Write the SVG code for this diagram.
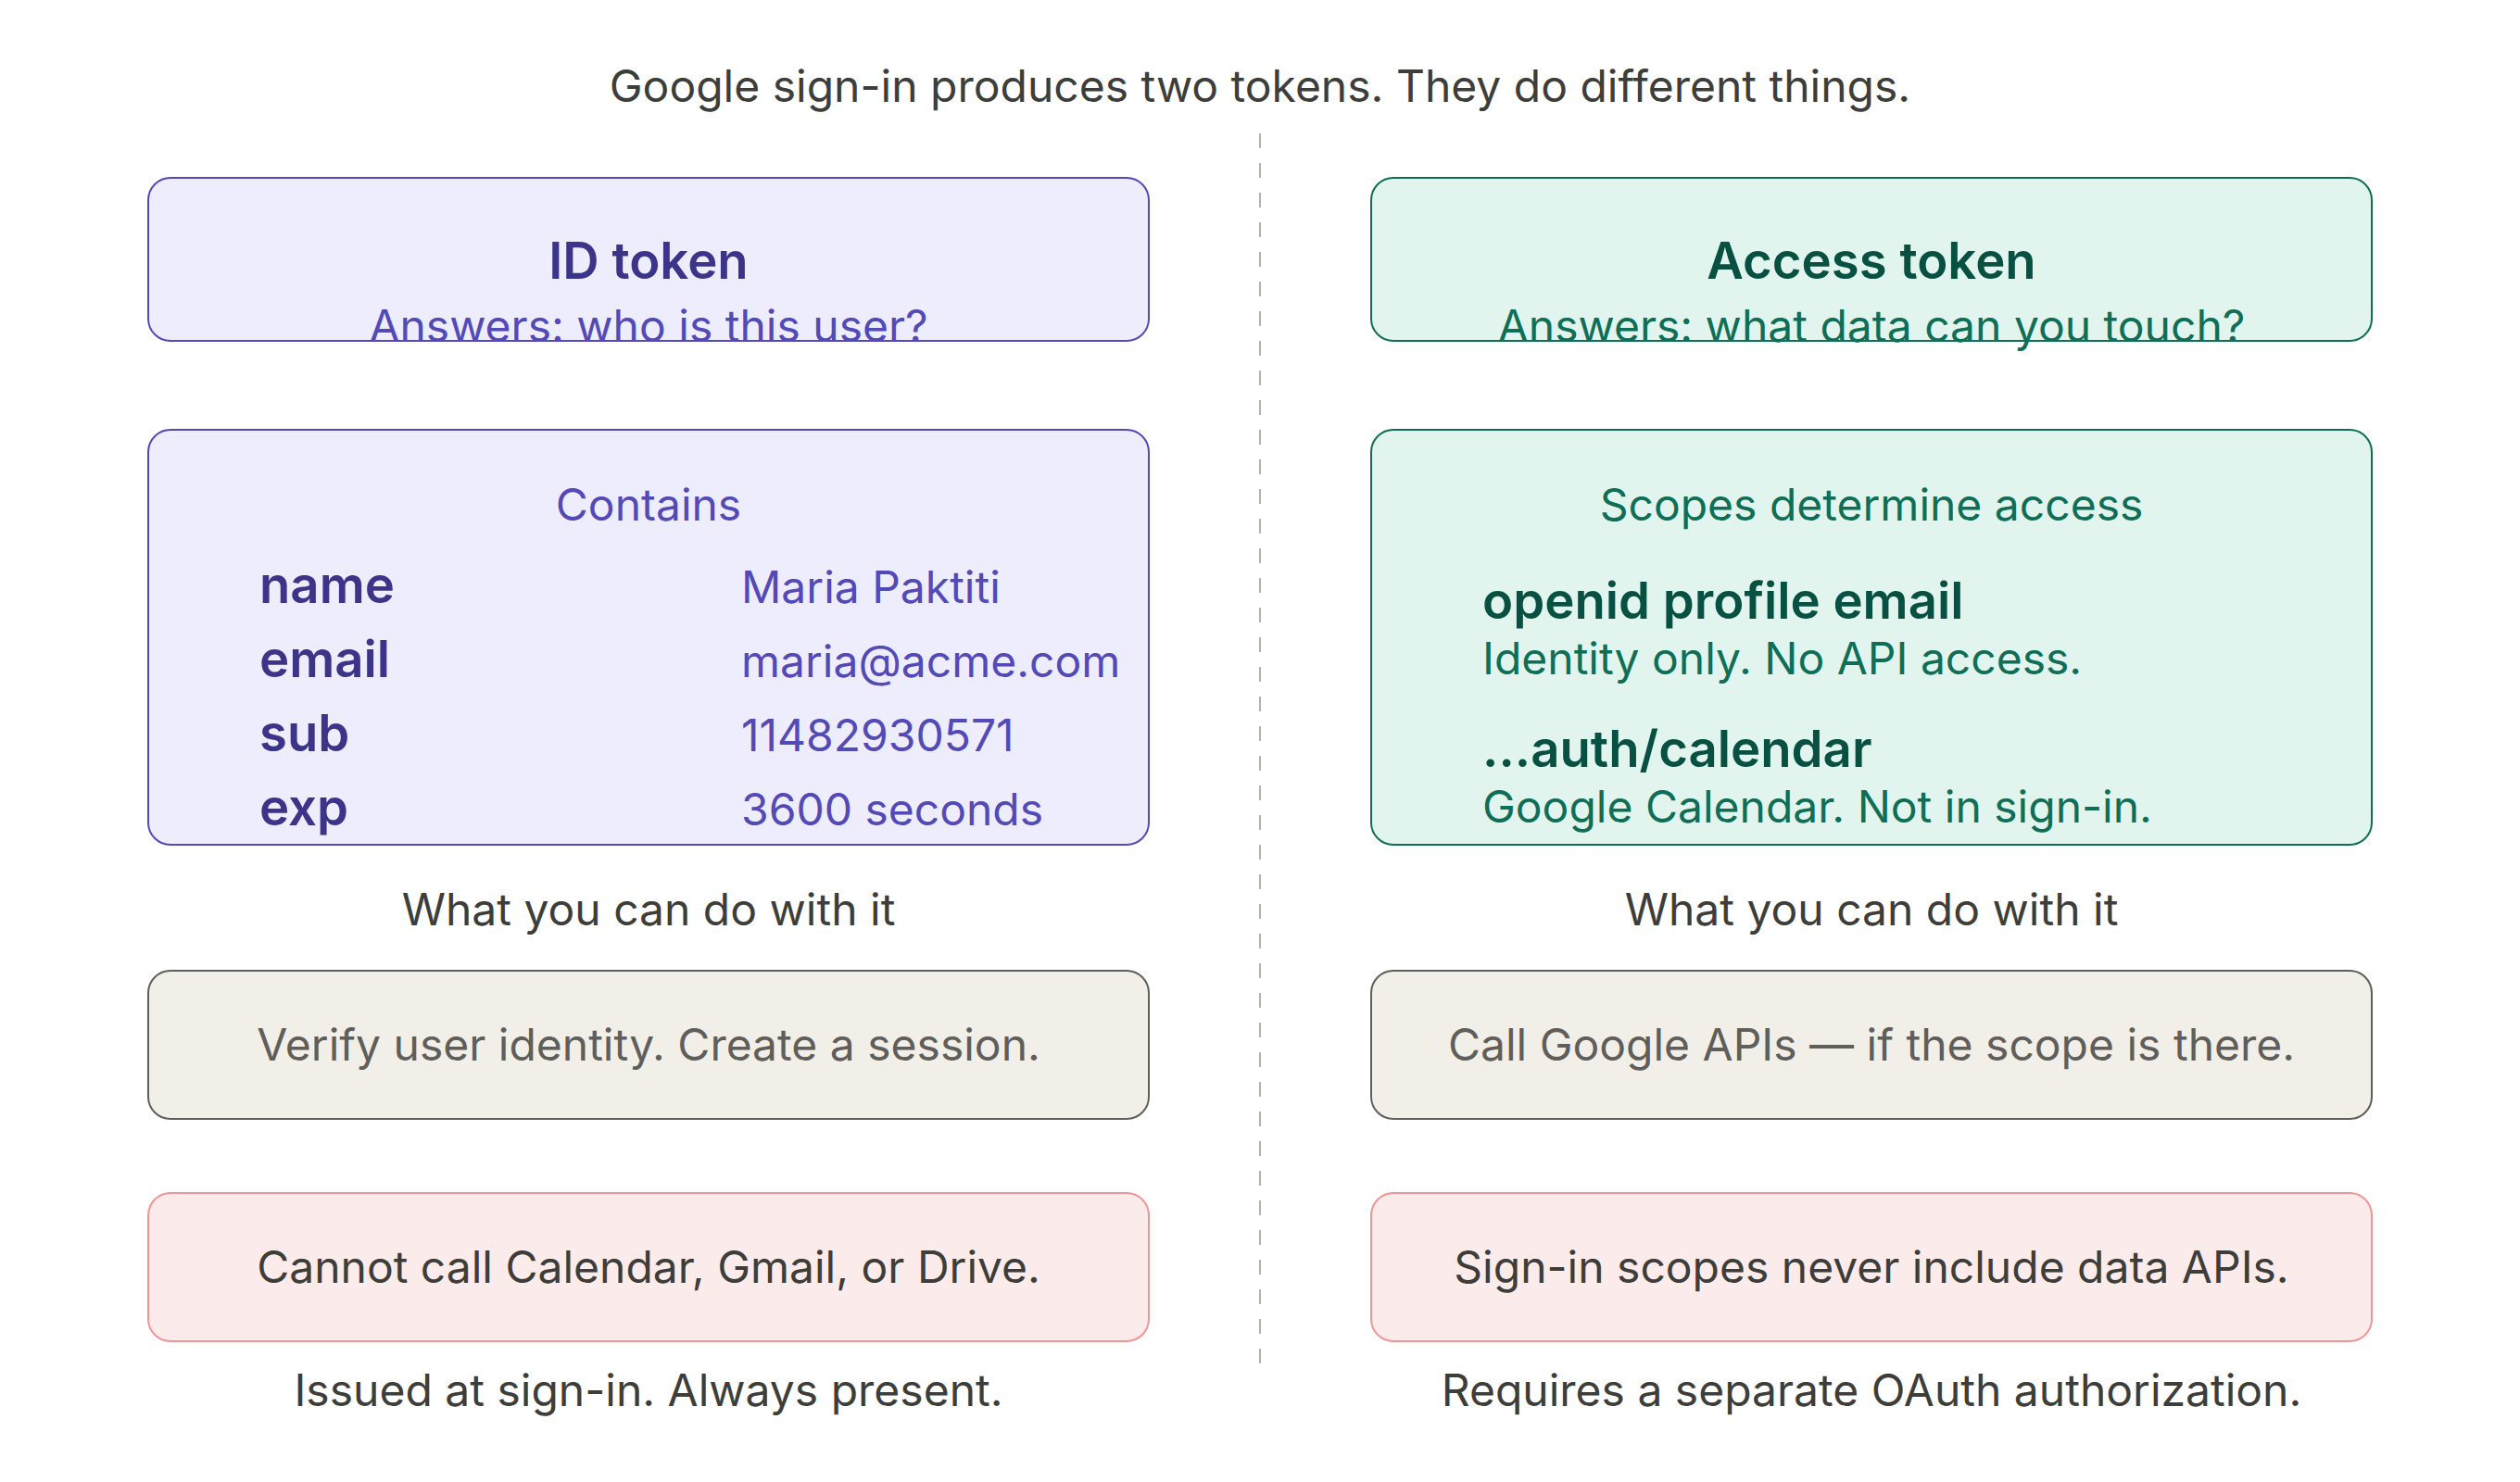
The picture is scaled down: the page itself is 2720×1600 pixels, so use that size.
<svg xmlns="http://www.w3.org/2000/svg" width="2720" height="1600" viewBox="0 0 2720 1600">
<style>
text{font-family:Inter,"Noto Sans","Liberation Sans",sans-serif;}
.c{text-anchor:middle;}
.reg{font-size:48px;font-weight:400;}
.bold{font-size:54.5px;font-weight:600;}
.pbox{fill:#EEEDFE;stroke:#534AB7;stroke-width:2;}
.gbox{fill:#E1F5EE;stroke:#0F6E56;stroke-width:2;}
.nbox{fill:#F1EFE8;stroke:#5F5E5A;stroke-width:2;}
.rbox{fill:#FCEBEB;stroke:#F09595;stroke-width:2;}
.pd{fill:#3C3489;}
.pm{fill:#534AB7;}
.gd{fill:#085041;}
.gm{fill:#0F6E56;}
.nt{fill:#5F5E5A;}
.dk{fill:#3D3D3A;}
</style>
<rect width="2720" height="1600" fill="#FFFFFF"/>
<text class="c reg dk" x="1360" y="110">Google sign-in produces two tokens. They do different things.</text>
<g id="connectors">
<line x1="1360" y1="144" x2="1360" y2="1472" stroke="#B4B2A9" stroke-width="2" stroke-dasharray="16 16"/>
</g>
<g id="id-token">
<rect class="pbox" x="160" y="192" width="1080" height="176" rx="24"/>
<text class="c bold pd" x="700" y="301">ID token</text>
<text class="c reg pm" x="700" y="369">Answers: who is this user?</text>
</g>
<g id="id-contains">
<rect class="pbox" x="160" y="464" width="1080" height="448" rx="24"/>
<text class="c reg pm" x="700" y="562">Contains</text>
<text class="bold pd" x="280" y="651">name</text>
<text class="reg pm" x="800" y="651">Maria Paktiti</text>
<text class="bold pd" x="280" y="731">email</text>
<text class="reg pm" x="800" y="731">maria@acme.com</text>
<text class="bold pd" x="280" y="811">sub</text>
<text class="reg pm" x="800" y="811">11482930571</text>
<text class="bold pd" x="280" y="891">exp</text>
<text class="reg pm" x="800" y="891">3600 seconds</text>
</g>
<text class="c reg dk" x="700" y="999">What you can do with it</text>
<g id="id-can">
<rect class="nbox" x="160" y="1048" width="1080" height="160" rx="24"/>
<text class="c reg nt" x="700" y="1145">Verify user identity. Create a session.</text>
</g>
<g id="id-cannot">
<rect class="rbox" x="160" y="1288" width="1080" height="160" rx="24"/>
<text class="c reg dk" x="700" y="1385">Cannot call Calendar, Gmail, or Drive.</text>
</g>
<text class="c reg dk" x="700" y="1518">Issued at sign-in. Always present.</text>

<g id="access-token">
<rect class="gbox" x="1480" y="192" width="1080" height="176" rx="24"/>
<text class="c bold gd" x="2020" y="301">Access token</text>
<text class="c reg gm" x="2020" y="369">Answers: what data can you touch?</text>
</g>
<g id="access-scopes">
<rect class="gbox" x="1480" y="464" width="1080" height="448" rx="24"/>
<text class="c reg gm" x="2020" y="562">Scopes determine access</text>
<text class="bold gd" x="1600" y="668">openid profile email</text>
<text class="reg gm" x="1600" y="728">Identity only. No API access.</text>
<text class="bold gd" x="1600" y="828">...auth/calendar</text>
<text class="reg gm" x="1600" y="888">Google Calendar. Not in sign-in.</text>
</g>
<text class="c reg dk" x="2020" y="999">What you can do with it</text>
<g id="access-can">
<rect class="nbox" x="1480" y="1048" width="1080" height="160" rx="24"/>
<text class="c reg nt" x="2020" y="1145">Call Google APIs — if the scope is there.</text>
</g>
<g id="access-cannot">
<rect class="rbox" x="1480" y="1288" width="1080" height="160" rx="24"/>
<text class="c reg dk" x="2020" y="1385">Sign-in scopes never include data APIs.</text>
</g>
<text class="c reg dk" x="2020" y="1518">Requires a separate OAuth authorization.</text>
</svg>
